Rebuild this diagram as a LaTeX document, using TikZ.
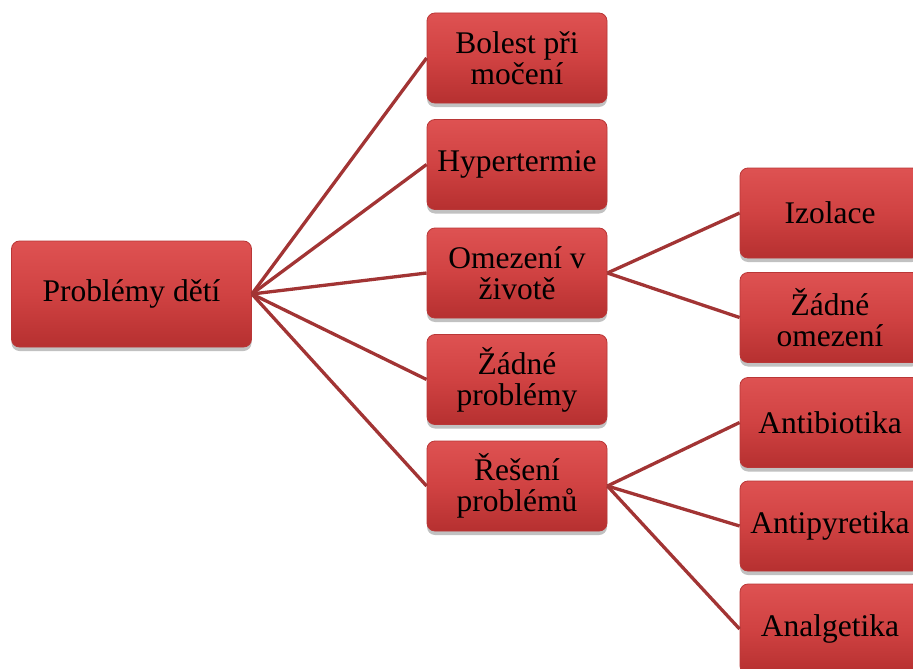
\documentclass[tikz,border=0pt]{standalone}
\usepackage{fontspec}
\setmainfont{Liberation Serif}
\usetikzlibrary{shadows}
\definecolor{boxtop}{RGB}{222,82,82}
\definecolor{boxmid}{RGB}{208,66,66}
\definecolor{boxbot}{RGB}{182,48,48}
\definecolor{boxedge}{RGB}{185,55,55}
\definecolor{linkred}{RGB}{162,52,52}
\tikzset{
  box/.style={rectangle, rounded corners=8pt, draw=boxedge, line width=0.8pt,
    top color=boxtop, bottom color=boxbot, middle color=boxmid,
    minimum width=180pt, minimum height=90pt, align=center, inner sep=2pt,
    font=\fontsize{31.5}{31}\selectfont, text=black,
    drop shadow={shadow xshift=0pt, shadow yshift=-4pt, opacity=0.35, fill=black!70}},
  rootbox/.style={box, minimum width=240pt, minimum height=106pt},
  link/.style={draw=linkred, line width=3.3pt}
}
\begin{document}
\begin{tikzpicture}[x=1pt, y=-1pt]
  \useasboundingbox (0,0) rectangle (913,669);
  \clip (0,0) rectangle (913,669);
  % root
  \node[rootbox] (root) at (131.5,294) {Problémy dětí};
  % first level
  \node[box] (bolest) at (517,58) {Bolest při\\močení};
  \node[box] (hyper) at (517,164.5) {Hypertermie};
  \node[box] (omez) at (517,273) {Omezení v\\životě};
  \node[box] (zadne) at (517,379.5) {Žádné\\problémy};
  \node[box] (reseni) at (517,486) {Řešení\\problémů};
  % second level
  \node[box] (izol) at (830,213) {Izolace};
  \node[box] (zomez) at (830,317.5) {Žádné\\omezení};
  \node[box] (antib) at (830,422.5) {Antibiotika};
  \node[box] (antip) at (830,526) {Antipyretika};
  \node[box] (analg) at (830,629) {Analgetika};
  % connectors
  \foreach \t in {bolest,hyper,omez,zadne,reseni}
    \draw[link] (root.east) -- (\t.west);
  \foreach \t in {izol,zomez}
    \draw[link] (omez.east) -- (\t.west);
  \foreach \t in {antib,antip,analg}
    \draw[link] (reseni.east) -- (\t.west);
\end{tikzpicture}
\end{document}
